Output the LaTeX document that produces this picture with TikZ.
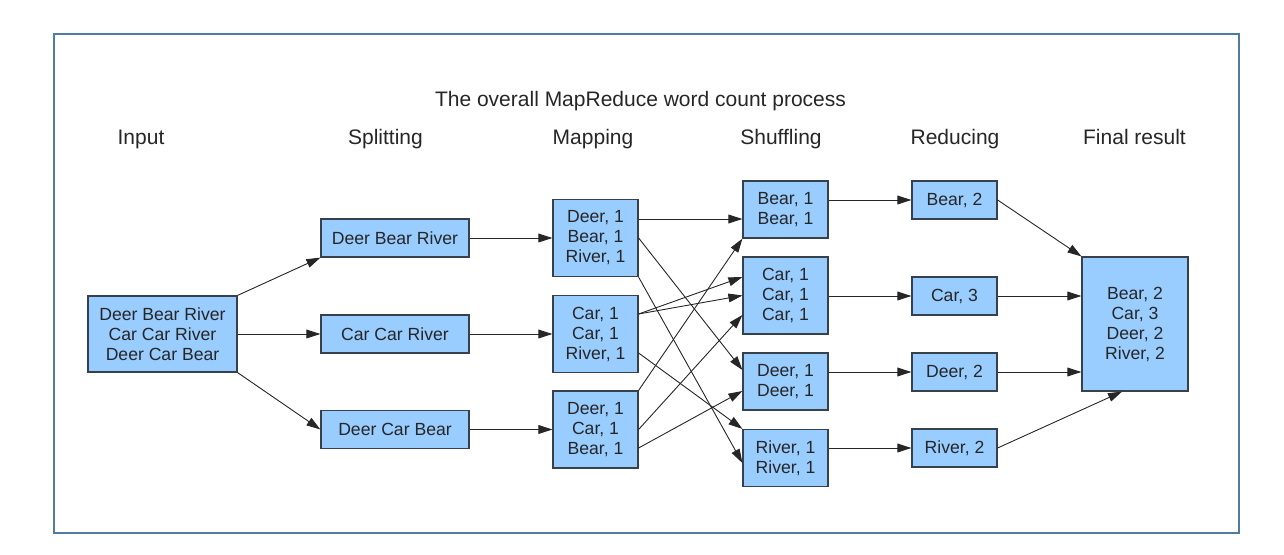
\documentclass[tikz,border=0pt]{standalone}
\usepackage{fontspec}
\setmainfont{Liberation Sans}
\usepackage{tikz}
\usetikzlibrary{arrows.meta, calc}

\definecolor{boxblue}{RGB}{153,204,255}
\definecolor{boxline}{RGB}{55,65,75}
\definecolor{framecol}{RGB}{79,125,160}

\tikzset{
  wbox/.style={draw=boxline, line width=0.6pt, fill=boxblue, align=center, inner sep=0pt,
    text=black!85, font=\fontsize{8.8}{10}\selectfont},
  hdr/.style={anchor=base, text=black!85, font=\fontsize{10.5}{12}\selectfont},
  link/.style={->, line width=0.45pt, black!85},
}

\begin{document}
\begin{tikzpicture}[>={Triangle[length=7pt,width=4.4pt]}, x=0.5pt, y=-0.5pt]

\useasboundingbox (0,0) rectangle (1284,555);
\draw[framecol, line width=1pt] (54,34) rectangle (1239,533);


\node[hdr] (title) at (640.5,107) {The overall MapReduce word count process};
\node[hdr] (hInput) at (141,145) {Input};
\node[hdr] (hSplit) at (385.5,145) {Splitting};
\node[hdr] (hMap) at (593,145) {Mapping};
\node[hdr] (hShuffle) at (781,145) {Shuffling};
\node[hdr] (hReduce) at (955,145) {Reducing};
\node[hdr] (hFinal) at (1134.5,145) {Final result};


\node[wbox, minimum width=74.5pt, minimum height=38pt] (input) at (162.5,334)
  {Deer Bear River\\Car Car River\\Deer Car Bear};

\node[wbox, minimum width=74pt, minimum height=19pt] (s1) at (395,238) {Deer Bear River};
\node[wbox, minimum width=74pt, minimum height=19pt] (s2) at (395,334) {Car Car River};
\node[wbox, minimum width=74pt, minimum height=19pt] (s3) at (395,429.5) {Deer Car Bear};

\node[wbox, minimum width=42.5pt, minimum height=38.5pt] (m1) at (595.5,238) {Deer, 1\\Bear, 1\\River, 1};
\node[wbox, minimum width=42.5pt, minimum height=38.5pt] (m2) at (595.5,334) {Car, 1\\Car, 1\\River, 1};
\node[wbox, minimum width=42.5pt, minimum height=38.5pt] (m3) at (595.5,429.5) {Deer, 1\\Car, 1\\Bear, 1};

\node[wbox, minimum width=42.5pt, minimum height=28.5pt] (sh1) at (785.5,209.5) {Bear, 1\\Bear, 1};
\node[wbox, minimum width=42.5pt, minimum height=38.5pt] (sh2) at (785.5,295.5) {Car, 1\\Car, 1\\Car, 1};
\node[wbox, minimum width=42.5pt, minimum height=28.5pt] (sh3) at (785.5,381.5) {Deer, 1\\Deer, 1};
\node[wbox, minimum width=42.5pt, minimum height=28.5pt] (sh4) at (785.5,458) {River, 1\\River, 1};

\node[wbox, minimum width=42.5pt, minimum height=19pt] (r1) at (954.5,200) {Bear, 2};
\node[wbox, minimum width=42.5pt, minimum height=19pt] (r2) at (954.5,296) {Car, 3};
\node[wbox, minimum width=42.5pt, minimum height=19pt] (r3) at (954.5,372) {Deer, 2};
\node[wbox, minimum width=42.5pt, minimum height=19pt] (r4) at (954.5,448) {River, 2};

\node[wbox, minimum width=53pt, minimum height=67pt] (final) at (1135,324)
  {Bear, 2\\Car, 3\\Deer, 2\\River, 2};


\draw[link] (input.north east) -- (s1.south west);
\draw[link] (input.east) -- (s2.west);
\draw[link] (input.south east) -- (s3.west);

\foreach \i in {1,2,3} {
  \draw[link] (s\i.east) -- (m\i.west);
}


\draw[link] ($(m1.east)+(0,-19)$) -- ($(sh1.west)+(0,9.5)$);
\draw[link] (m1.east) -- ($(sh3.west)+(0,-11.5)$);
\draw[link] (m1.south east) -- ($(sh4.west)+(0,5)$);

\draw[link] ($(m2.east)+(0,-20)$) -- ($(sh2.west)+(0,-18.5)$);
\draw[link] ($(m2.east)+(0,-20)$) -- (sh2.west);
\draw[link] ($(m2.east)+(0,19)$) -- (sh4.north west);

\draw[link] (m3.north east) -- (sh1.south west);
\draw[link] (m3.east) -- ($(sh2.west)+(0,19.5)$);
\draw[link] ($(m3.east)+(0,18.5)$) -- ($(sh3.west)+(0,9.5)$);


\foreach \i in {1,2,3,4} {
  \draw[link] (sh\i.east |- r\i.west) -- (r\i.west);
}


\draw[link] (r1.east) -- (final.north west);
\draw[link] (r2.east) -- (final.west |- r2.east);
\draw[link] (r3.east) -- (final.west |- r3.east);
\draw[link] (r4.east) -- ($(final.south)+(-13,0)$);

\end{tikzpicture}
\end{document}
